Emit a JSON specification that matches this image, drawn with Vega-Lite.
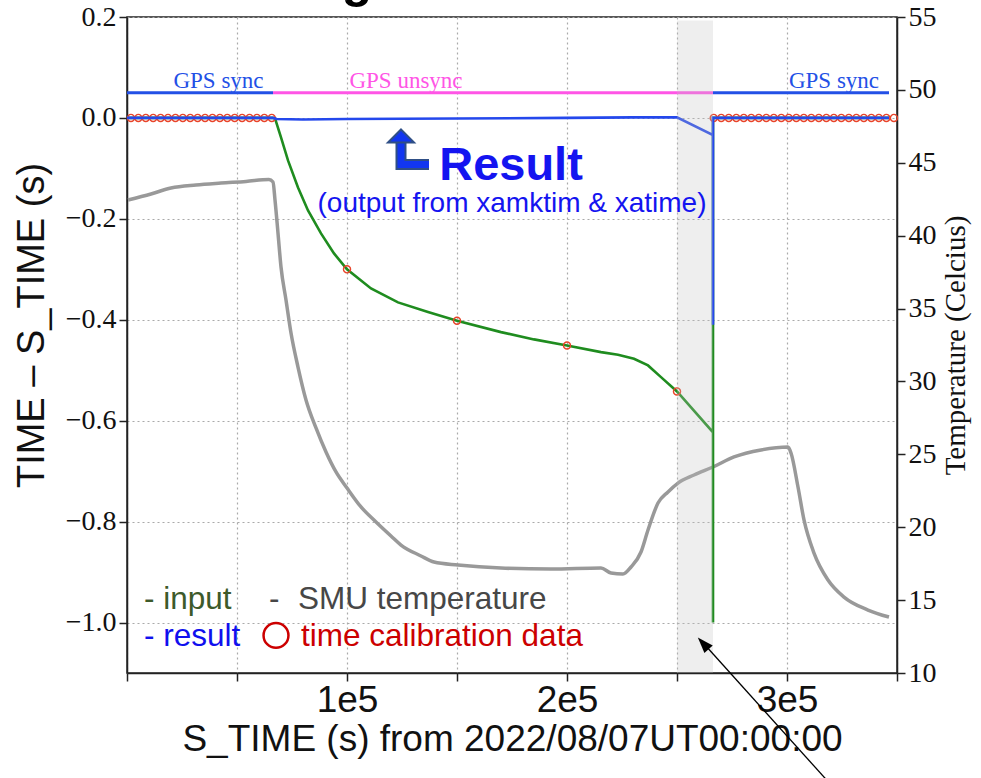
{
  "$schema": "https://vega.github.io/schema/vega-lite/v6.json",
  "width": 770,
  "height": 656,
  "autosize": "none",
  "padding": {"left": 127, "top": 17, "right": 84, "bottom": 105},
  "background": "white",
  "config": {
    "font": "Liberation Sans",
    "view": {"stroke": "#222222", "strokeWidth": 1.5},
    "axis": {
      "domainColor": "#222222", "domainWidth": 1.5,
      "tickColor": "#222222", "tickWidth": 1.5, "tickSize": 8,
      "labelColor": "#111111", "titleColor": "#111111", "titleFontWeight": "normal",
      "gridColor": "#aaaaaa", "gridDash": [2, 3], "gridWidth": 1.2
    }
  },
  "datasets": {
    "temp": [
      {"x": 455, "t": 42.45}, {"x": 10909, "t": 42.86}, {"x": 20000, "t": 43.27}, {"x": 31364, "t": 43.48},
      {"x": 42727, "t": 43.61}, {"x": 54091, "t": 43.72}, {"x": 64545, "t": 43.85}, {"x": 66364, "t": 43.68},
      {"x": 67273, "t": 42.45}, {"x": 68636, "t": 40.18}, {"x": 70000, "t": 37.85}, {"x": 72273, "t": 35.59},
      {"x": 74545, "t": 33.32}, {"x": 77727, "t": 30.99}, {"x": 81364, "t": 28.73}, {"x": 85909, "t": 26.81},
      {"x": 90455, "t": 25.16}, {"x": 95000, "t": 23.79}, {"x": 100000, "t": 22.69}, {"x": 106364, "t": 21.39},
      {"x": 113182, "t": 20.36}, {"x": 120000, "t": 19.40}, {"x": 124545, "t": 18.78}, {"x": 133636, "t": 18.03},
      {"x": 139545, "t": 17.61}, {"x": 150455, "t": 17.41}, {"x": 170000, "t": 17.20}, {"x": 192727, "t": 17.13},
      {"x": 215455, "t": 17.20}, {"x": 220000, "t": 16.86}, {"x": 225455, "t": 16.79}, {"x": 229091, "t": 17.27},
      {"x": 233636, "t": 18.30}, {"x": 236818, "t": 19.81}, {"x": 241364, "t": 21.66}, {"x": 245909, "t": 22.42},
      {"x": 250455, "t": 23.03}, {"x": 257727, "t": 23.58}, {"x": 266364, "t": 24.13}, {"x": 275909, "t": 24.82},
      {"x": 288182, "t": 25.30}, {"x": 300455, "t": 25.50}, {"x": 301818, "t": 25.09}, {"x": 305000, "t": 22.76},
      {"x": 307727, "t": 20.50}, {"x": 312273, "t": 18.23}, {"x": 318636, "t": 16.38}, {"x": 325909, "t": 15.21},
      {"x": 336818, "t": 14.32}, {"x": 346364, "t": 13.84}
    ],
    "input": [
      {"i": 0, "x": 0, "y": 0}, {"i": 1, "x": 66364, "y": 0}, {"i": 2, "x": 67273, "y": -0.001},
      {"i": 3, "x": 70000, "y": -0.0386}, {"i": 4, "x": 73182, "y": -0.0842}, {"i": 5, "x": 77727, "y": -0.1377},
      {"i": 6, "x": 82273, "y": -0.1833}, {"i": 7, "x": 88182, "y": -0.2289}, {"i": 8, "x": 94091, "y": -0.2685},
      {"i": 9, "x": 100000, "y": -0.300}, {"i": 10, "x": 110909, "y": -0.3379}, {"i": 11, "x": 123182, "y": -0.3656},
      {"i": 12, "x": 136818, "y": -0.3848}, {"i": 13, "x": 150000, "y": -0.402}, {"i": 14, "x": 170000, "y": -0.4245},
      {"i": 15, "x": 185000, "y": -0.4389}, {"i": 16, "x": 200000, "y": -0.451}, {"i": 17, "x": 215455, "y": -0.4641},
      {"i": 18, "x": 223182, "y": -0.4693}, {"i": 19, "x": 230455, "y": -0.4772}, {"i": 20, "x": 236818, "y": -0.4905},
      {"i": 21, "x": 242727, "y": -0.5137}, {"i": 22, "x": 250000, "y": -0.542}, {"i": 23, "x": 266364, "y": -0.623},
      {"i": 24, "x": 266364, "y": -1.0}, {"i": 25, "x": 266364, "y": 0}, {"i": 26, "x": 346364, "y": 0}
    ],
    "result": [
      {"i": 0, "x": 0, "y": 0}, {"i": 1, "x": 66364, "y": 0}, {"i": 2, "x": 68000, "y": -0.002},
      {"i": 3, "x": 80000, "y": -0.003}, {"i": 4, "x": 100000, "y": -0.002}, {"i": 5, "x": 150000, "y": -0.001},
      {"i": 6, "x": 200000, "y": 0}, {"i": 7, "x": 230000, "y": 0.001}, {"i": 8, "x": 250000, "y": 0.001},
      {"i": 9, "x": 266364, "y": -0.034}, {"i": 10, "x": 266364, "y": -0.41}, {"i": 11, "x": 266364, "y": 0},
      {"i": 12, "x": 346364, "y": 0}
    ],
    "gps": [
      {"x": 0, "y": 0.05, "status": "sync", "seg": 1}, {"x": 66364, "y": 0.05, "status": "sync", "seg": 1},
      {"x": 66364, "y": 0.05, "status": "unsync", "seg": 2}, {"x": 266364, "y": 0.05, "status": "unsync", "seg": 2},
      {"x": 266364, "y": 0.05, "status": "sync", "seg": 3}, {"x": 346364, "y": 0.05, "status": "sync", "seg": 3}
    ],
    "cal": [
      {"x": 1800, "y": 0}, {"x": 5170, "y": 0}, {"x": 8540, "y": 0}, {"x": 11900, "y": 0}, {"x": 15270, "y": 0},
      {"x": 18640, "y": 0}, {"x": 22010, "y": 0}, {"x": 25380, "y": 0}, {"x": 28740, "y": 0}, {"x": 32110, "y": 0},
      {"x": 35480, "y": 0}, {"x": 38850, "y": 0}, {"x": 42220, "y": 0}, {"x": 45580, "y": 0}, {"x": 48950, "y": 0},
      {"x": 52320, "y": 0}, {"x": 55690, "y": 0}, {"x": 59060, "y": 0}, {"x": 62420, "y": 0}, {"x": 65790, "y": 0},
      {"x": 100000, "y": -0.300}, {"x": 150000, "y": -0.402}, {"x": 200000, "y": -0.451}, {"x": 250000, "y": -0.542},
      {"x": 266700, "y": 0}, {"x": 270110, "y": 0}, {"x": 273530, "y": 0}, {"x": 276940, "y": 0}, {"x": 280350, "y": 0},
      {"x": 283760, "y": 0}, {"x": 287170, "y": 0}, {"x": 290580, "y": 0}, {"x": 294000, "y": 0}, {"x": 297410, "y": 0},
      {"x": 300820, "y": 0}, {"x": 304230, "y": 0}, {"x": 307640, "y": 0}, {"x": 311050, "y": 0}, {"x": 314470, "y": 0},
      {"x": 317880, "y": 0}, {"x": 321290, "y": 0}, {"x": 324700, "y": 0}, {"x": 328110, "y": 0}, {"x": 331520, "y": 0},
      {"x": 334940, "y": 0}, {"x": 338350, "y": 0}, {"x": 341760, "y": 0}, {"x": 345170, "y": 0}, {"x": 348600, "y": 0}
    ],
    "bentArrow": [
      {"i": 0, "x": 124545, "y": -0.0486}, {"i": 1, "x": 124545, "y": -0.0922}, {"i": 2, "x": 137273, "y": -0.0922}
    ]
  },
  "encoding": {
    "x": {
      "field": "x", "type": "quantitative",
      "scale": {"domain": [0, 350000], "nice": false, "zero": false},
      "axis": {
        "values": [0, 50000, 100000, 150000, 200000, 250000, 300000, 350000],
        "labelExpr": "datum.value == 100000 ? '1e5' : datum.value == 200000 ? '2e5' : datum.value == 300000 ? '3e5' : ''",
        "labelFont": "Liberation Sans", "labelFontSize": 37, "labelPadding": 1, "labelFlush": false,
        "title": "S_TIME (s) from 2022/08/07UT00:00:00",
        "titleFont": "Liberation Sans", "titleFontSize": 37, "titlePadding": 3, "grid": true
      }
    }
  },
  "layer": [
    {
      "data": {"name": "temp"},
      "mark": {"type": "line", "color": "#999999", "strokeWidth": 3.5, "interpolate": "monotone"},
      "encoding": {
        "y": {
          "field": "t", "type": "quantitative",
          "scale": {"domain": [10, 55], "nice": false, "zero": false},
          "axis": {
            "orient": "right", "values": [10, 15, 20, 25, 30, 35, 40, 45, 50, 55],
            "labelFont": "Liberation Serif", "labelFontSize": 28, "labelPadding": 3,
            "title": "Temperature (Celcius)", "titleFont": "Liberation Serif", "titleFontSize": 29,
            "titleAngle": 270, "titleBaseline": "top", "titlePadding": 5, "grid": false
          }
        }
      }
    },
    {
      "encoding": {
        "y": {
          "field": "y", "type": "quantitative",
          "scale": {"domain": [-1.1, 0.2], "nice": false, "zero": false},
          "axis": {
            "orient": "left", "values": [-1.0, -0.8, -0.6, -0.4, -0.2, 0, 0.2], "format": ".1f",
            "labelFont": "Liberation Serif", "labelFontSize": 28, "labelPadding": 3,
            "title": "TIME – S_TIME (s)", "titleFont": "Liberation Sans", "titleFontSize": 38,
            "titlePadding": 14, "titleY": 308, "grid": true
          }
        }
      },
      "layer": [
        {
          "data": {"name": "input"},
          "mark": {"type": "line", "color": "#1f8c1f", "strokeWidth": 2.6},
          "encoding": {"order": {"field": "i", "type": "quantitative"}}
        },
        {
          "data": {"name": "cal"},
          "mark": {"type": "point", "shape": "circle", "filled": false, "color": "#e8442a", "size": 50, "strokeWidth": 1.4, "opacity": 1}
        },
        {
          "data": {"name": "result"},
          "mark": {"type": "line", "color": "#2448ec", "strokeWidth": 2.6},
          "encoding": {"order": {"field": "i", "type": "quantitative"}}
        },
        {
          "data": {"name": "gps"},
          "mark": {"type": "line", "strokeWidth": 3},
          "encoding": {
            "detail": {"field": "seg", "type": "nominal"},
            "color": {"field": "status", "type": "nominal", "scale": {"domain": ["sync", "unsync"], "range": ["#2350e6", "#ff55e6"]}, "legend": null}
          }
        },
        {
          "data": {"values": [{"x": 250000, "x2": 266364, "y": 0.193, "y2": -1.1}]},
          "mark": {"type": "rect", "color": "#c0c0c0", "opacity": 0.27},
          "encoding": {"x2": {"field": "x2"}, "y2": {"field": "y2"}}
        },
        {
          "data": {"values": [{"x": 41590, "y": 0.0585, "label": "GPS sync"}, {"x": 321364, "y": 0.0585, "label": "GPS sync"}]},
          "mark": {"type": "text", "font": "Liberation Serif", "fontSize": 23, "color": "#2350e6", "align": "center", "baseline": "alphabetic"},
          "encoding": {"text": {"field": "label"}}
        },
        {
          "data": {"values": [{"x": 126818, "y": 0.0585, "label": "GPS unsync"}]},
          "mark": {"type": "text", "font": "Liberation Serif", "fontSize": 23, "color": "#ff55e6", "align": "center", "baseline": "alphabetic"},
          "encoding": {"text": {"field": "label"}}
        },
        {
          "data": {"name": "bentArrow"},
          "mark": {"type": "line", "color": "#2f4f86", "strokeWidth": 11, "strokeCap": "butt", "strokeJoin": "miter"},
          "encoding": {"order": {"field": "i", "type": "quantitative"}}
        },
        {
          "data": {"name": "bentArrow"},
          "mark": {"type": "line", "color": "#1236f0", "strokeWidth": 7, "strokeCap": "butt", "strokeJoin": "miter"},
          "encoding": {"order": {"field": "i", "type": "quantitative"}}
        },
        {
          "data": {"values": [{"x": 124545, "y": -0.0357}]},
          "mark": {"type": "point", "shape": "M0,-0.5L1,0.5L-1,0.5Z", "size": 676, "filled": true, "fill": "#1236f0", "stroke": "#2f4f86", "strokeWidth": 2, "opacity": 1}
        },
        {
          "data": {"values": [{"x": 174545, "y": -0.1239, "label": "Result"}]},
          "mark": {"type": "text", "font": "Liberation Sans", "fontWeight": "bold", "fontSize": 47, "color": "#1414f0", "align": "center", "baseline": "alphabetic"},
          "encoding": {"text": {"field": "label"}}
        },
        {
          "data": {"values": [{"x": 175000, "y": -0.1873, "label": "(output from xamktim & xatime)"}]},
          "mark": {"type": "text", "font": "Liberation Sans", "fontSize": 28, "color": "#1414f0", "align": "center", "baseline": "alphabetic"},
          "encoding": {"text": {"field": "label"}}
        },
        {
          "data": {"values": [{"x": 7727, "y": -0.974, "label": "- input"}]},
          "mark": {"type": "text", "font": "Liberation Sans", "fontSize": 31.5, "color": "#3d5a2a", "align": "left", "baseline": "alphabetic"},
          "encoding": {"text": {"field": "label"}}
        },
        {
          "data": {"values": [{"x": 64545, "y": -0.974, "label": "-"}, {"x": 77727, "y": -0.974, "label": "SMU temperature"}]},
          "mark": {"type": "text", "font": "Liberation Sans", "fontSize": 31.5, "color": "#474747", "align": "left", "baseline": "alphabetic"},
          "encoding": {"text": {"field": "label"}}
        },
        {
          "data": {"values": [{"x": 7727, "y": -1.0473, "label": "- result"}]},
          "mark": {"type": "text", "font": "Liberation Sans", "fontSize": 31.5, "color": "#1010ee", "align": "left", "baseline": "alphabetic"},
          "encoding": {"text": {"field": "label"}}
        },
        {
          "data": {"values": [{"x": 67727, "y": -1.0255}]},
          "mark": {"type": "point", "shape": "circle", "filled": false, "color": "#cc0000", "size": 620, "strokeWidth": 2.5, "opacity": 1}
        },
        {
          "data": {"values": [{"x": 79091, "y": -1.0473, "label": "time calibration data"}]},
          "mark": {"type": "text", "font": "Liberation Sans", "fontSize": 31.5, "color": "#cc0000", "align": "left", "baseline": "alphabetic"},
          "encoding": {"text": {"field": "label"}}
        },
        {
          "data": {"values": [{"x": 104500, "y": 0.2388, "label": "g"}]},
          "mark": {"type": "text", "font": "Liberation Sans", "fontWeight": "bold", "fontSize": 50, "color": "#000000", "align": "center", "baseline": "alphabetic"},
          "encoding": {"text": {"field": "label"}}
        },
        {
          "data": {"values": [{"x": 324545, "y": -1.3436, "x2": 261000, "y2": -1.036}]},
          "mark": {"type": "rule", "color": "#000000", "strokeWidth": 1.3},
          "encoding": {"x2": {"field": "x2"}, "y2": {"field": "y2"}}
        },
        {
          "data": {"values": [{"x": 261909, "y": -1.0412}]},
          "mark": {"type": "point", "shape": "M0,-1L0.7,1L-0.7,1Z", "size": 256, "filled": true, "color": "#000000", "angle": 317.8, "opacity": 1}
        }
      ]
    }
  ],
  "resolve": {"scale": {"y": "independent"}, "axis": {"y": "independent"}}
}
